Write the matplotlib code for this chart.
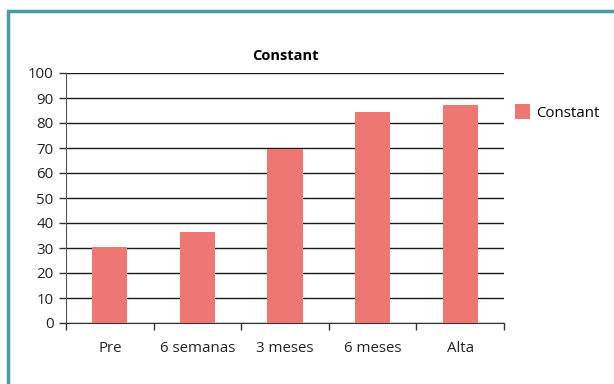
import matplotlib
matplotlib.use("Agg")
import matplotlib.pyplot as plt
from matplotlib.patches import Rectangle
import numpy as np

categories = ["Pre", "6 semanas", "3 meses", "6 meses", "Alta"]
values = [30.3, 36.3, 69.8, 84.4, 87.2]
series_name = "Constant"
yticks = [0, 10, 20, 30, 40, 50, 60, 70, 80, 90, 100]

plt.rcParams['font.family'] = ['Open Sans', 'DejaVu Sans']

fig = plt.figure(figsize=(6.14, 3.84), dpi=100)
ax = fig.add_axes([66/614, 61/384, 438/614, 250/384])

x = np.arange(len(categories))
ax.bar(x, values, width=0.4, color="#EE7773", label=series_name, zorder=3)

ax.set_xlim(-0.5, len(categories) - 0.5)
ax.set_ylim(0, 100)
ax.set_yticks(yticks)
ax.set_yticklabels([str(t) for t in yticks], fontsize=10.8, color="#222222")
ax.set_xticks(x)
ax.set_xticklabels(categories, fontsize=10.8, color="#222222")
ax.set_xticks(np.arange(-0.5, len(categories)), minor=True)
ax.tick_params(axis='x', which='major', length=0, pad=13)
ax.tick_params(axis='x', which='minor', length=5, width=1, color="#333333")
ax.tick_params(axis='y', length=5, width=1, color="#333333", pad=4)

ax.yaxis.grid(True, color="#1a1a1a", linewidth=1.0, zorder=1)
ax.set_axisbelow(True)
for s in ["top", "right"]:
    ax.spines[s].set_visible(False)
ax.spines["left"].set_color("#555555")
ax.spines["bottom"].set_color("#333333")

ax.set_title(series_name, fontsize=10.5, fontweight="bold", pad=9)

ax.legend(loc="upper left", bbox_to_anchor=(1.025, 0.875), frameon=False,
          fontsize=10.8, handlelength=1.0, handleheight=1.1, handletextpad=0.4,
          borderaxespad=0, borderpad=0)

# teal frame (top and left edges visible)
fig.patches.append(Rectangle((8/614, -0.1), 1.2, (384 - 10)/384 + 0.1 - 1/384,
                             transform=fig.transFigure, fill=False,
                             edgecolor="#4A9BA8", linewidth=2.5, zorder=0))

fig.savefig("out.png", dpi=100)
